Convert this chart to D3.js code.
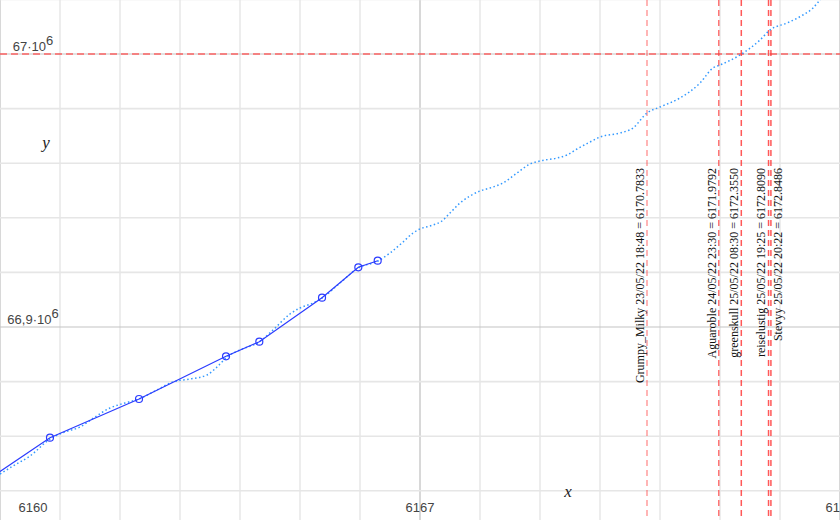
<!DOCTYPE html>
<html><head><meta charset="utf-8">
<script src="https://cdn.jsdelivr.net/npm/d3@7"></script>
<style>body{margin:0;background:#fff}svg{display:block}</style>
</head><body>
<script>
// Observed points (solid line with circles)
const obsX = [6159.3, 6160.833, 6162.317, 6163.767, 6164.322, 6165.367, 6165.972, 6166.295];
const obsY = [66836630, 66859451, 66873626, 66889267, 66894615, 66910733, 66921868, 66924286];
// Fitted / forecast curve (dotted)
const fitX = [6160.000,6160.217,6160.500,6160.833,6161.083,6161.333,6161.583,6161.833,6162.083,6162.317,6162.583,6162.883,6163.167,6163.450,6163.617,6163.783,6164.000,6164.317,6164.550,6164.833,6165.000,6165.217,6165.367,6165.667,6165.967,6166.300,6166.500,6166.717,6166.883,6167.000,6167.217,6167.367,6167.500,6167.667,6167.833,6168.000,6168.167,6168.383,6168.617,6168.833,6169.000,6169.283,6169.450,6169.617,6169.833,6170.000,6170.333,6170.550,6170.783,6171.000,6171.333,6171.667,6171.883,6172.000,6172.333,6172.667,6172.833,6173.117,6173.383,6173.550,6173.667,6174.000];
const fitY = [66846154,66849084,66852747,66858974,66861538,66863370,66867033,66870330,66872161,66873626,66876557,66879853,66880952,66882418,66885348,66889011,66891575,66894505,66898901,66904762,66906960,66908791,66910623,66916117,66921612,66924176,66927106,66931136,66934432,66935897,66937363,66938828,66941758,66945421,66947985,66949817,66950916,66952747,66956410,66959707,66960806,66961905,66963004,66965201,66967766,66969597,66971062,66972894,66978388,66980586,66983883,66989377,66994872,66995971,66999634,67005128,67008791,67011355,67014286,67016850,67019780,67024908];
// Guesses (vertical markers)
const guessNames = ["Grumpy_Milky 23/05/22 18:48","Aguaroble 24/05/22 23:30","greenskull 25/05/22 08:30","reiselustig 25/05/22 19:25","Stevyy 25/05/22 20:22"];
const guessX = [6170.7833, 6171.9792, 6172.3550, 6172.8090, 6172.8486];
const targetY = [67000000];
// Tick labels
const xTicks = [6160, 6167, 6174];
const xTickLabels = ["6160", "6167", "6174"];
const yTicks = [66900000, 67000000];
const yTickLabels = ["66,9·10", "67·10"];

const W = 840, H = 520;
const x = d3.scaleLinear().domain([6160, 6174]).range([0, 840]);
const y = d3.scaleLinear().domain([66900000, 67000000]).range([327, 54]);

const svg = d3.select("body").append("svg").attr("width", W).attr("height", H);

// grid
const gx = d3.range(6160, 6175, 1);
const gy = d3.range(66820000, 67040001, 20000);
svg.append("g").selectAll("line").data(gx).join("line")
  .attr("x1", d => x(d)).attr("x2", d => x(d)).attr("y1", 0).attr("y2", H)
  .attr("stroke", d => xTicks.includes(d) ? "#cfcfcf" : "#e9e9e9").attr("stroke-width", 1.6);
svg.append("g").selectAll("line").data(gy).join("line")
  .attr("x1", 0).attr("x2", W).attr("y1", d => y(d)).attr("y2", d => y(d))
  .attr("stroke", d => yTicks.some(t => Math.abs(t - d) < 1) ? "#c4c4c4" : "#e6e6e6")
  .attr("stroke-width", d => yTicks.some(t => Math.abs(t - d) < 1) ? 1.2 : 1.6);

// tick labels
svg.append("g").selectAll("text").data(xTicks).join("text")
  .attr("x", d => Math.max(x(d), 33)).attr("y", 512)
  .attr("text-anchor", "middle").attr("font-family", "Liberation Sans, Arial, sans-serif")
  .attr("font-size", 13).attr("fill", "#444").text((d, i) => xTickLabels[i]);
const yl = svg.append("g").selectAll("text").data(yTicks).join("text")
  .attr("x", 33).attr("y", d => y(d) - 3)
  .attr("text-anchor", "middle").attr("font-family", "Liberation Sans, Arial, sans-serif")
  .attr("font-size", 13).attr("fill", "#444");
yl.append("tspan").text((d, i) => yTickLabels[i]);
yl.append("tspan").attr("dy", -6).attr("font-size", 13).text("6");

// axis names
svg.append("text").attr("x", 568).attr("y", 497).attr("text-anchor", "middle")
  .attr("font-family", "Liberation Serif, Times New Roman, serif").attr("font-style", "italic")
  .attr("font-size", 17).attr("fill", "#222").text("x");
svg.append("text").attr("x", 46).attr("y", 148).attr("text-anchor", "middle")
  .attr("font-family", "Liberation Serif, Times New Roman, serif").attr("font-style", "italic")
  .attr("font-size", 17).attr("fill", "#222").text("y");

// target horizontal line
svg.append("g").selectAll("line").data(targetY).join("line")
  .attr("x1", 0).attr("x2", W).attr("y1", d => y(d)).attr("y2", d => y(d))
  .attr("stroke", "#ff4d4d").attr("stroke-opacity", 0.85).attr("stroke-width", 1.5)
  .attr("stroke-dasharray", "7,4");

// guess vertical lines
const gOp = [0.5, 0.7, 0.85, 0.85, 0.85];
svg.append("g").selectAll("line").data(guessX).join("line")
  .attr("x1", d => x(d)).attr("x2", d => x(d)).attr("y1", 0).attr("y2", H)
  .attr("stroke", "#ff3b3b").attr("stroke-opacity", (d, i) => gOp[i]).attr("stroke-width", 1.5)
  .attr("stroke-dasharray", "6,4");

// guess labels
const lblOff = [-3, -3, -3.5, -3.5, 11];
svg.append("g").selectAll("text").data(guessX).join("text")
  .attr("transform", (d, i) => `translate(${x(d) + lblOff[i]},168) rotate(-90)`)
  .attr("text-anchor", "end")
  .attr("font-family", "Liberation Serif, Times New Roman, serif")
  .attr("font-size", 12).attr("fill", "#111")
  .text((d, i) => `${guessNames[i]} = ${d.toFixed(4)}`);

// dotted fit curve
const fit = fitX.map((v, i) => [v, fitY[i]]);
svg.append("path").datum(fit)
  .attr("d", d3.line().x(d => x(d[0])).y(d => y(d[1])).curve(d3.curveMonotoneX))
  .attr("fill", "none").attr("stroke", "#3399ff").attr("stroke-width", 1.5)
  .attr("stroke-dasharray", "1.5,2.5");

// observed solid line + circles
const obs = obsX.map((v, i) => [v, obsY[i]]);
svg.append("path").datum(obs)
  .attr("d", d3.line().x(d => x(d[0])).y(d => y(d[1])))
  .attr("fill", "none").attr("stroke", "#2b3cff").attr("stroke-width", 1.2);
svg.append("g").selectAll("circle").data(obs).join("circle")
  .attr("cx", d => x(d[0])).attr("cy", d => y(d[1])).attr("r", 3.5)
  .attr("fill", "none").attr("stroke", "#2b3cff").attr("stroke-width", 1.2);
</script>
</body></html>
